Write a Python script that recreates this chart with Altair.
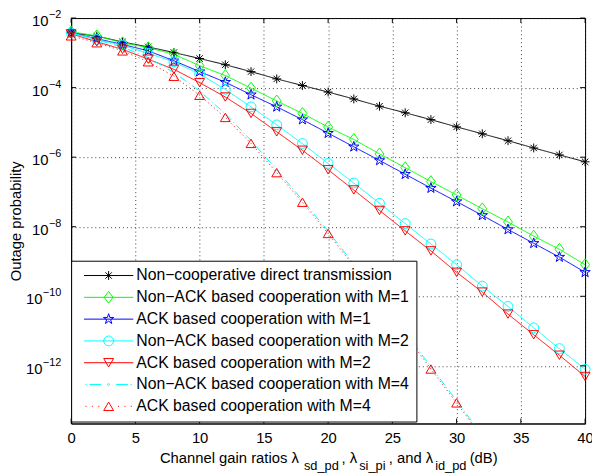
import altair as alt
import pandas as pd

# ---------------- data ----------------
x_main = [0, 2, 4, 6, 8, 10, 12, 14, 16, 18, 20, 22, 24, 26, 28, 30, 32, 34, 36, 38, 40]
x_m4 = [0, 2, 4, 6, 8, 10, 12, 14, 16, 18, 20, 22, 24, 26, 28, 30, 32]

noncoop = [3.75e-3, 3.03e-3, 2.05e-3, 1.48e-3, 1.02e-3, 6.87e-4, 4.55e-4, 2.88e-4, 1.78e-4, 1.15e-4,
           7.45e-5, 4.72e-5, 2.92e-5, 1.89e-5, 1.20e-5, 7.43e-6, 4.70e-6, 2.97e-6, 1.84e-6, 1.16e-6, 7.36e-7]
nonack_m1 = [4.01e-3, 3.08e-3, 1.95e-3, 1.41e-3, 9.10e-4, 4.27e-4, 2.22e-4, 9.68e-5, 4.14e-5, 1.81e-5,
             7.33e-6, 3.24e-6, 1.24e-6, 4.98e-7, 1.99e-7, 8.18e-8, 3.28e-8, 1.37e-8, 5.37e-9, 2.25e-9, 8.09e-10]
ack_m1 = [3.75e-3, 2.54e-3, 1.75e-3, 1.14e-3, 5.92e-4, 2.88e-4, 1.43e-4, 6.25e-5, 2.80e-5, 1.20e-5,
          4.89e-6, 1.99e-6, 8.05e-7, 3.23e-7, 1.29e-7, 5.28e-8, 2.12e-8, 8.34e-9, 3.33e-9, 1.34e-9, 4.89e-10]
nonack_m2 = [3.75e-3, 2.42e-3, 1.64e-3, 9.70e-4, 5.53e-4, 2.46e-4, 8.89e-5, 2.80e-5, 8.47e-6, 2.46e-6,
             6.62e-7, 1.81e-7, 4.73e-8, 1.23e-8, 3.19e-9, 8.09e-10, 1.96e-10, 5.11e-11, 1.24e-11, 3.13e-12, 7.96e-13]
ack_m2 = [3.52e-3, 2.08e-3, 1.26e-3, 6.56e-4, 3.35e-4, 1.39e-4, 5.37e-5, 1.81e-5, 5.36e-6, 1.58e-6,
          4.34e-7, 1.14e-7, 2.94e-8, 7.60e-9, 2.02e-9, 4.89e-10, 1.32e-10, 3.08e-11, 7.83e-12, 2.02e-12, 4.94e-13]
nonack_m4 = [3.75e-3, 2.38e-3, 1.46e-3, 7.33e-4, 2.75e-4, 7.96e-5, 1.77e-5, 3.03e-6, 4.28e-7, 5.83e-8,
             7.45e-9, 8.36e-10, 9.06e-11, 9.23e-12, 9.38e-13, 9.84e-14, 1.00e-14]
ack_m4 = [3.08e-3, 1.95e-3, 1.14e-3, 5.53e-4, 2.12e-4, 6.01e-5, 1.39e-5, 2.49e-6, 3.59e-7, 5.06e-8,
          6.41e-9, 7.33e-10, 7.96e-11, 8.09e-12, 8.11e-13, 8.63e-14, 8.77e-15]

series_names = [
    "Non\u2212cooperative direct transmission",
    "Non\u2212ACK based cooperation with M=1",
    "ACK based cooperation with M=1",
    "Non\u2212ACK based cooperation with M=2",
    "ACK based cooperation with M=2",
    "Non\u2212ACK based cooperation with M=4",
    "ACK based cooperation with M=4",
]
series_x = [x_main, x_main, x_main, x_main, x_main, x_m4, x_m4]
series_y = [noncoop, nonack_m1, ack_m1, nonack_m2, ack_m2, nonack_m4, ack_m4]

x_ticks = [0, 5, 10, 15, 20, 25, 30, 35, 40]
y_ticks = [1e-2, 1e-4, 1e-6, 1e-8, 1e-10, 1e-12]
y_tick_base = "10"
y_tick_exps = ["\u22122", "\u22124", "\u22126", "\u22128", "\u221210", "\u221212"]
y_title = "Outage probability"
x_title_main = ["Channel gain ratios \u03bb", ", \u03bb", ", and \u03bb", " (dB)"]
x_title_sub = ["sd_pd", "si_pi", "id_pd"]

# ---------------- styles ----------------
colors = ["#000000", "#00ff00", "#0000ff", "#00ffff", "#ff0000", "#00ffff", "#ff0000"]
dashes = [[1, 0], [1, 0], [1, 0], [1, 0], [1, 0], [8, 3, 1, 3], [1, 3]]

ASTER = "M-0.9,0H0.9M0,-0.9V0.9M-0.65,-0.65L0.65,0.65M-0.65,0.65L0.65,-0.65"
DIAM = "M0,-1.2L0.9,0L0,1.2L-0.9,0Z"
STAR = ("M0,-1.1L0.247,-0.34L1.046,-0.34L0.4,0.13L0.647,0.89L0,0.42L-0.647,0.89"
        "L-0.4,0.13L-1.046,-0.34L-0.247,-0.34Z")
CIRC = "M1,0A1,1,0,1,1,-1,0A1,1,0,1,1,1,0Z"
TDOWN = "M-1,-0.85L1,-0.85L0,0.85Z"
TUP = "M0,-0.85L1,0.85L-1,0.85Z"
markers = [ASTER, DIAM, STAR, CIRC, TDOWN, None, TUP]

SOLID = "M-5,0H5"
DASHDOT = ("M-4.7,0h0.25M-3.9,0H-1.5M-0.2,0A0.2,0.2,0,1,1,0.2,0A0.2,0.2,0,1,1,-0.2,0"
           "M1.5,0H3.9M4.45,0h0.25")
DOTTED = "M-4.7,0h0.2M-3.4,0h0.2M-2.1,0h0.2M1.9,0h0.2M3.2,0h0.2M4.5,0h0.2"
legend_paths = [SOLID + ASTER, SOLID + DIAM, SOLID + STAR, SOLID + CIRC, SOLID + TDOWN,
                DASHDOT, DOTTED + TUP]

FONT = "Liberation Sans"
W, H = 521, 411
Y_MIN, Y_MAX = 2.2e-14, 1e-2

rows = []
for name, xs, ys in zip(series_names, series_x, series_y):
    for xv, yv in zip(xs, ys):
        rows.append({"x": xv, "p": yv, "series": name})
df = pd.DataFrame(rows)

xscale = alt.Scale(domain=[0, 40], nice=False, zero=False)
yscale = alt.Scale(type="log", domain=[Y_MIN, Y_MAX], nice=False)

x_axis = alt.Axis(
    values=x_ticks, title=None, grid=True, gridDash=[1, 3], gridColor="#000000", gridOpacity=0.75,
    ticks=False, labelFontSize=15, labelPadding=7, labelFlush=False, labelOverlap=False,
    domainColor="black", labelColor="black", format="d", labelFont=FONT)
y_axis = alt.Axis(
    values=y_ticks, labels=False, title=y_title, titleFontSize=15,
    titleFontWeight="normal", titleColor="black", titleFont=FONT, titleX=-48,
    grid=True, gridDash=[1, 3], gridColor="#000000", gridOpacity=0.75, ticks=False,
    domainColor="black")

X = alt.X("x:Q", scale=xscale, axis=x_axis)
Y = alt.Y("p:Q", scale=yscale, axis=y_axis)

layers = []
for name, c, d in zip(series_names, colors, dashes):
    layers.append(
        alt.Chart(df).transform_filter(alt.datum.series == name)
        .mark_line(color=c, strokeDash=d, strokeWidth=1, clip=True)
        .encode(x=X, y=Y)
    )
for name, c, mk in zip(series_names, colors, markers):
    if mk is None:
        continue
    layers.append(
        alt.Chart(df)
        .transform_filter(alt.datum.series == name)
        .transform_filter(alt.datum.p >= Y_MIN)
        .mark_point(shape=mk, filled=False, size=100, opacity=1, strokeWidth=1, color=c)
        .encode(x=X, y=Y)
    )

# inward ticks (MATLAB style)
xt = pd.DataFrame({"x": x_ticks})
yt = pd.DataFrame({"p": y_ticks, "exp": y_tick_exps})
layers.append(alt.Chart(xt).mark_rule(color="black", strokeWidth=1).encode(
    x=X, y=alt.value(H), y2=alt.value(H - 5)))
layers.append(alt.Chart(xt).mark_rule(color="black", strokeWidth=1).encode(
    x=X, y=alt.value(0), y2=alt.value(5)))
layers.append(alt.Chart(yt).mark_rule(color="black", strokeWidth=1).encode(
    y=Y, x=alt.value(0), x2=alt.value(5)))
layers.append(alt.Chart(yt).mark_rule(color="black", strokeWidth=1).encode(
    y=Y, x=alt.value(W), x2=alt.value(W - 5)))

# y tick labels: 10 with superscript exponent
short_exp = "length(datum.exp) <= 2"
layers.append(alt.Chart(yt).transform_filter(short_exp)
              .mark_text(text=y_tick_base, font=FONT, fontSize=15, align="right",
                         baseline="alphabetic", dy=8, color="black")
              .encode(y=Y, x=alt.value(-23)))
layers.append(alt.Chart(yt).transform_filter("!(" + short_exp + ")")
              .mark_text(text=y_tick_base, font=FONT, fontSize=15, align="right",
                         baseline="alphabetic", dy=8, color="black")
              .encode(y=Y, x=alt.value(-29)))
layers.append(alt.Chart(yt)
              .mark_text(font=FONT, fontSize=11, align="right", baseline="alphabetic",
                         dy=0, color="black")
              .encode(y=Y, x=alt.value(-10), text="exp:N"))

# x-axis title with subscripts
one = pd.DataFrame({"k": [0]})
main_pos = [90, 274, 322, 404]
sub_pos = [236, 292, 369]
for txt, px in zip(x_title_main, main_pos):
    layers.append(alt.Chart(one).mark_text(text=txt, font=FONT, fontSize=15, align="left",
                                           baseline="alphabetic", color="black")
                  .encode(x=alt.value(px), y=alt.value(451)))
for txt, px in zip(x_title_sub, sub_pos):
    layers.append(alt.Chart(one).mark_text(text=txt, font=FONT, fontSize=13, align="left",
                                           baseline="alphabetic", color="black")
                  .encode(x=alt.value(px), y=alt.value(458)))

# legend-only layer (no visible marks)
leg = alt.Legend(
    title=None, orient="none", legendX=0, legendY=246, fillColor="white", strokeColor="black",
    padding=7, labelFontSize=16, labelFont=FONT, labelColor="black", labelLimit=600,
    symbolSize=100, symbolStrokeWidth=1, symbolOffset=23, labelOffset=20, rowPadding=6.1,
    cornerRadius=0, symbolFillColor="transparent",
)
layers.append(
    alt.Chart(df).transform_filter("false")
    .mark_point(filled=False, opacity=1, size=100, strokeWidth=1)
    .encode(
        color=alt.Color("series:N", scale=alt.Scale(domain=series_names, range=colors), legend=leg),
        shape=alt.Shape("series:N", scale=alt.Scale(domain=series_names, range=legend_paths), legend=leg),
    )
)

chart = alt.layer(*layers).properties(
    width=W, height=H,
    autosize=alt.AutoSizeParams(type="none"),
    padding={"left": 64, "top": 7, "right": 7, "bottom": 48},
).configure(font=FONT).configure_view(stroke="black", strokeWidth=1)

chart.save("out.html", embed_options={"renderer": "svg", "actions": False})
